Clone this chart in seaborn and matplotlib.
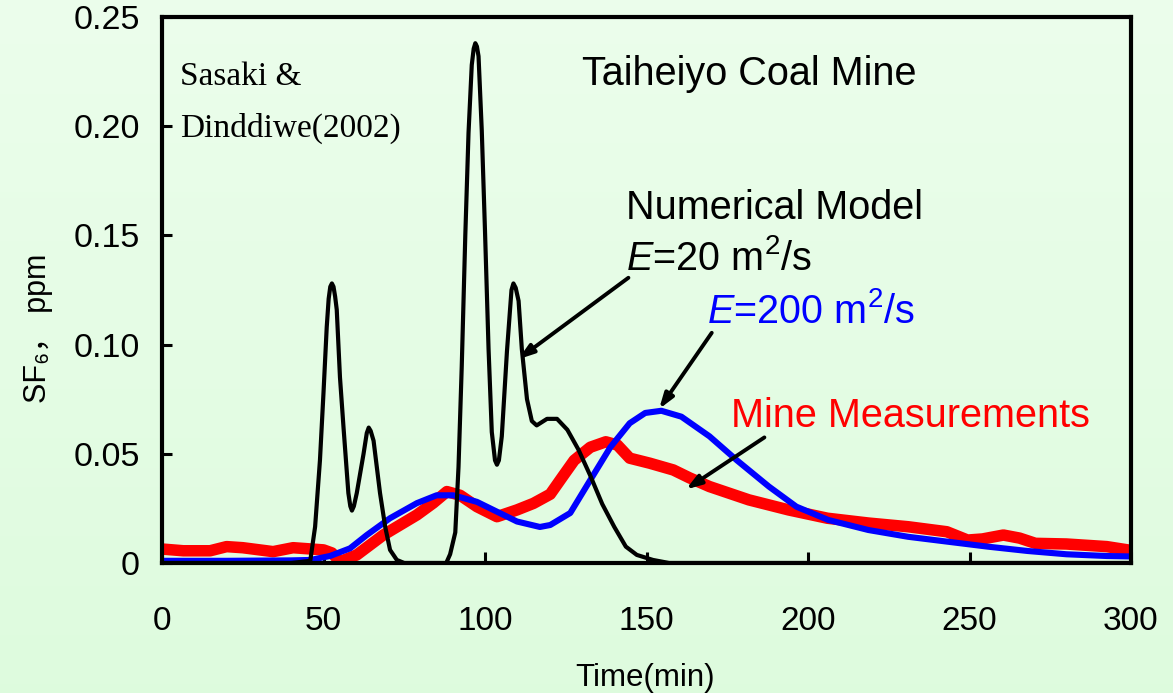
import numpy as np
import pandas as pd
import matplotlib
matplotlib.use("Agg")
import matplotlib.pyplot as plt
import seaborn as sns

# ---------------- data ----------------
t_e20 = [0, 40, 45.9, 47.4, 48.9, 50, 51, 51.6, 52.1, 52.6, 53.1, 53.6, 54.1, 55.1, 56.2,
         57.7, 58.3, 58.8, 59.4, 60.3, 62.4, 63.4, 64, 64.6, 65.5, 67.5, 69.1, 70.6, 72.7,
         75, 88, 89.2, 90.8, 91.8, 92.8, 93.9, 94.9, 95.9, 96.5, 97, 97.5, 98, 99, 100,
         101.1, 102.1, 103.1, 103.7, 104.3, 105.2, 106.8, 108.2, 108.8, 109.5, 110.4, 111.4,
         113, 114.5, 116, 119.2, 122.3, 125.5, 128.9, 132.6, 136.3, 140, 143.6, 147, 152,
         157, 170, 300]
c_e20 = [0, 0, 0.001, 0.0166, 0.047, 0.078, 0.108, 0.121, 0.1265, 0.128, 0.1265, 0.122,
         0.116, 0.085, 0.062, 0.032, 0.026, 0.024, 0.026, 0.032, 0.050, 0.0595, 0.062,
         0.0605, 0.056, 0.032, 0.0166, 0.006, 0.0014, 0, 0, 0.004, 0.014, 0.044, 0.09, 0.15,
         0.197, 0.228, 0.2355, 0.238, 0.2365, 0.232, 0.198, 0.152, 0.098, 0.06, 0.047, 0.045,
         0.047, 0.058, 0.097, 0.125, 0.128, 0.126, 0.12, 0.098, 0.075, 0.065, 0.063, 0.066,
         0.066, 0.061, 0.052, 0.040, 0.027, 0.0166, 0.0075, 0.0037, 0.0014, 0.0, 0.0, 0.0]

t_e200 = [0, 20, 40, 46, 52, 58.2, 63.4, 70.6, 78.9, 85, 90.2, 97.5, 103.7, 109.9, 117,
          120.2, 126.4, 132.6, 138.8, 144.8, 149.6, 154.6, 160.8, 169.5, 178, 187.9, 196.4,
          206.3, 218.7, 231, 243, 255.6, 268, 280, 292.5, 300]
c_e200 = [0.001, 0.001, 0.0012, 0.0014, 0.0032, 0.0067, 0.0128, 0.0205, 0.0274, 0.031, 0.031,
          0.028, 0.0235, 0.019, 0.0165, 0.0174, 0.0229, 0.038, 0.053, 0.064, 0.0687, 0.0697,
          0.067, 0.058, 0.047, 0.035, 0.0258, 0.0197, 0.0151, 0.012, 0.0098, 0.0075, 0.0055,
          0.004, 0.0032, 0.003]

t_mine = [0, 6.6, 14.9, 20, 25, 34.4, 40.6, 50, 52.6, 55.1, 60.3, 68.5, 78.9, 84, 88.2, 92.3,
          97.5, 103.7, 109.9, 115, 120.2, 124, 127.6, 132.6, 137.4, 141, 144.8, 151, 158.3,
          163.3, 169.5, 181.7, 194, 206, 218.7, 231, 243, 249.4, 254, 260.5, 265.5, 270.4,
          280, 292.5, 299]
c_mine = [0.0064, 0.0056, 0.0056, 0.0075, 0.007, 0.0052, 0.007, 0.006, 0.0046, 0.0006, 0.0037,
          0.0128, 0.022, 0.0275, 0.0327, 0.031, 0.0258, 0.0212, 0.0243, 0.0273, 0.0315, 0.0395,
          0.047, 0.053, 0.0555, 0.054, 0.048, 0.0457, 0.0426, 0.039, 0.035, 0.0289, 0.0243,
          0.0205, 0.0183, 0.0166, 0.0143, 0.0105, 0.011, 0.0128, 0.0114, 0.009, 0.0087,
          0.0075, 0.006]

x_ticks = [0, 50, 100, 150, 200, 250, 300]
y_ticks = [0, 0.05, 0.10, 0.15, 0.20, 0.25]
y_tick_labels = ["0", "0.05", "0.10", "0.15", "0.20", "0.25"]

# ---------------- style ----------------
sns.set_style("white")
plt.rcParams["font.family"] = ["Liberation Sans", "Noto Sans CJK JP", "DejaVu Sans"]
plt.rcParams["mathtext.fontset"] = "custom"
plt.rcParams["mathtext.rm"] = "Liberation Sans"
plt.rcParams["mathtext.it"] = "Liberation Sans:italic"
plt.rcParams["mathtext.default"] = "rm"
plt.rcParams["text.color"] = "black"
plt.rcParams["axes.labelcolor"] = "black"
plt.rcParams["xtick.color"] = "black"
plt.rcParams["ytick.color"] = "black"

fig = plt.figure(figsize=(11.73, 6.93), dpi=100)

# light green gradient background
bg = fig.add_axes([0, 0, 1, 1], zorder=0)
top_c = np.array([0.925, 0.995, 0.925])
bot_c = np.array([0.870, 0.985, 0.870])
grad = np.linspace(0, 1, 256)[:, None, None] * (bot_c - top_c) + top_c
bg.imshow(np.repeat(grad, 2, axis=1), aspect="auto", extent=[0, 1, 0, 1])
bg.set_axis_off()

ax = fig.add_axes([162 / 1173, 1 - 563 / 693, (1131 - 162) / 1173, (563 - 17) / 693], zorder=1)
ax.set_facecolor("none")

df_mine = pd.DataFrame({"t": t_mine, "c": c_mine})
df_e200 = pd.DataFrame({"t": t_e200, "c": c_e200})
df_e20 = pd.DataFrame({"t": t_e20, "c": c_e20})

sns.lineplot(data=df_mine, x="t", y="c", ax=ax, color="#ff0000", linewidth=8.3,
             sort=False, estimator=None, solid_capstyle="round", solid_joinstyle="round",
             zorder=2)
sns.lineplot(data=df_e200, x="t", y="c", ax=ax, color="#0000ff", linewidth=4.4,
             sort=False, estimator=None, solid_capstyle="round", solid_joinstyle="round",
             zorder=3)
sns.lineplot(data=df_e20, x="t", y="c", ax=ax, color="black", linewidth=3.0,
             sort=False, estimator=None, solid_joinstyle="round", zorder=4)

ax.set_xlim(0, 300)
ax.set_ylim(0, 0.25)
ax.set_xticks(x_ticks)
ax.set_xticklabels([str(v) for v in x_ticks])
ax.set_yticks(y_ticks)
ax.set_yticklabels(y_tick_labels)

for s in ax.spines.values():
    s.set_visible(True)
    s.set_color("black")
    s.set_linewidth(3)
    s.set_zorder(5)

ax.tick_params(axis="x", direction="in", length=8, width=2.2, pad=31, labelsize=24,
               colors="black", top=False, bottom=True)
ax.tick_params(axis="y", direction="in", length=7, width=2.2, pad=16, labelsize=24.5,
               colors="black", left=True, right=False)

ax.set_xlabel("Time(min)", fontsize=22.5, color="black")
ax.xaxis.set_label_coords(0.4985, -0.183)
ax.set_ylabel("SF₆， ppm", fontsize=22, color="black")
ax.yaxis.set_label_coords(-0.112, 0.43)

# ---------------- annotations ----------------
ax.text(5.6, 0.2189, "Sasaki &", family="Liberation Serif", fontsize=24, va="baseline",
        color="black")
ax.text(5.6, 0.1950, "Dinddiwe(2002)", family="Liberation Serif", fontsize=24,
        va="baseline", color="black")
ax.text(130.0, 0.2189, "Taiheiyo Coal Mine", fontsize=28.5, va="baseline", color="black")
ax.text(143.7, 0.1575, "Numerical Model", fontsize=28.5, va="baseline", color="black")
ax.text(143.7, 0.1342, r"$\mathit{E}$=20 m$^{2}$/s", fontsize=28.5, va="baseline",
        color="black")
ax.text(168.7, 0.1099, r"$\mathit{E}$=200 m$^{2}$/s", fontsize=28.5, va="baseline",
        color="#0000ff")
ax.text(176.2, 0.0624, "Mine Measurements", fontsize=28.5, va="baseline", color="#ff0000")

arrow_kw = dict(arrowstyle="-|>,head_length=0.9,head_width=0.3", color="black", lw=2.8,
                shrinkA=0, shrinkB=0)
ax.annotate("", xy=(110.3, 0.0933), xytext=(144.4, 0.1306), arrowprops=arrow_kw, zorder=6)
ax.annotate("", xy=(153.9, 0.0705), xytext=(170.2, 0.1054), arrowprops=arrow_kw, zorder=6)
ax.annotate("", xy=(162.2, 0.0337), xytext=(186.5, 0.0575), arrowprops=arrow_kw, zorder=6)

fig.savefig("out.png", dpi=100)
